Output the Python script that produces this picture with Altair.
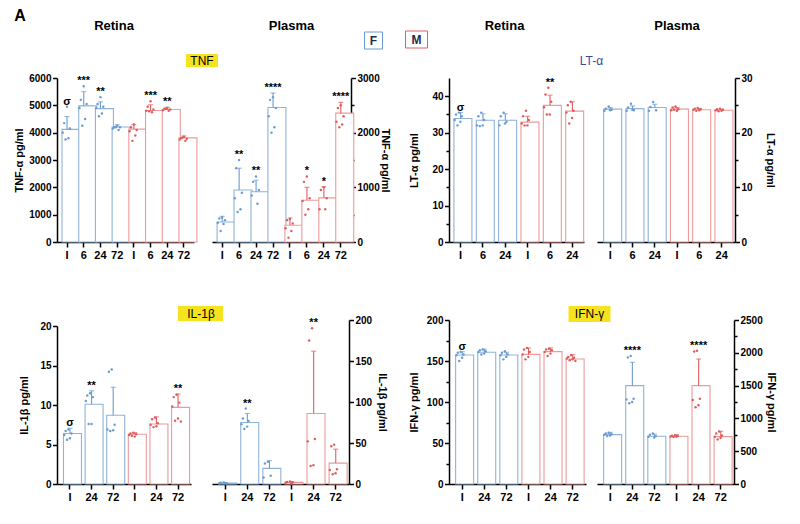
import altair as alt
import pandas as pd

FONT = "Liberation Sans"
BLUE_BAR = "#8fb3d9"
RED_BAR = "#ec9a9a"
BLUE = "#6a9bd1"
RED = "#e05d5d"
YELLOW = "#f6e320"

SEX8 = ["F"] * 4 + ["M"] * 4
SEX6 = ["F"] * 3 + ["M"] * 3
TIMES_TNF = ["I", "6", "24", "72", "I", "6", "24", "72"]
TIMES_LT = ["I", "6", "24", "I", "6", "24"]
TIMES_IL = ["I", "24", "72", "I", "24", "72"]

# ---- TNF ----
TNF_RET_MEAN = [4120, 4980, 4880, 4210, 4130, 4810, 4850, 3810]
TNF_RET_TOP = [4590, 5500, 5130, 4290, 4290, 5020, 4930, 3880]
TNF_RET_PTS = [[4950, 4350, 4150, 4000, 3800, 3750], [5700, 5200, 5050, 4900, 4500, 4250],
               [5300, 5050, 4950, 4900, 4700, 4600], [4250, 4200, 4200, 4150, 4100, 4200],
               [4300, 4200, 4100, 4050, 3900, 3700], [5150, 4950, 4850, 4800, 4750, 4780],
               [4900, 4880, 4850, 4820, 4800, 4870], [3850, 3800, 3780, 3750, 3700, 3820]]
TNF_RET_SIG = ["σ", "***", "**", "", "", "***", "**", ""]

TNF_PLA_MEAN = [365, 950, 920, 2460, 306, 765, 808, 2357]
TNF_PLA_TOP = [470, 1350, 1130, 2725, 440, 1000, 1010, 2553]
TNF_PLA_PTS = [[450, 430, 400, 350, 330, 200], [1500, 1350, 900, 800, 600, 550],
               [1200, 1100, 950, 850, 700], [2650, 2600, 2450, 2300, 2100, 2000],
               [420, 400, 340, 250, 200, 80], [1200, 1100, 800, 750, 600, 500],
               [1000, 950, 800, 600, 600], [2500, 2450, 2300, 2200, 2150, 2100]]
TNF_PLA_SIG = ["", "**", "**", "****", "", "*", "*", "****"]

# ---- LT-alpha ----
LT_RET_MEAN = [33.9, 33.4, 33.4, 32.9, 37.5, 35.9]
LT_RET_TOP = [35.5, 35.2, 35.2, 34.5, 40.3, 38.5]
LT_RET_PTS = [[35.5, 35, 34.5, 33.5, 33, 32], [35.5, 34.5, 33.5, 32, 32, 31.8],
              [35.5, 34.5, 33, 32, 32.5], [36, 34.5, 33.5, 32.5, 32, 32],
              [42.3, 40.5, 38.5, 37, 35, 35], [38.5, 37.5, 36, 35.5, 34, 32.5]]
LT_RET_SIG = ["σ", "", "", "", "**", ""]

LT_PLA_MEAN = [24.3, 24.4, 24.6, 24.3, 24.2, 24.1]
LT_PLA_TOP = [24.6, 24.9, 25.2, 24.6, 24.4, 24.3]
LT_PLA_PTS = [[24.8, 24.4, 24.2, 24.0, 24.1], [25.3, 24.6, 24.1, 24.0, 24.2],
              [25.6, 24.7, 24.1, 24.0], [24.8, 24.6, 24.3, 24.1, 24.0, 24.2],
              [24.5, 24.4, 24.3, 24.2, 24.1, 24.0], [24.4, 24.3, 24.2, 24.1, 24.0, 23.9]]
LT_PLA_SIG = ["", "", "", "", "", ""]

# ---- IL-1beta ----
IL_RET_MEAN = [6.4, 10.1, 8.7, 6.3, 7.6, 9.7]
IL_RET_TOP = [7.05, 11.8, 12.25, 6.5, 8.5, 11.4]
IL_RET_PTS = [[6.9, 6.7, 6.4, 6.2, 5.8, 5.6], [11.5, 11.2, 11.0, 10.5, 7.6, 7.6],
              [14.5, 14.2, 7.5, 6.9, 6.8, 6.7], [6.5, 6.4, 6.3, 6.2, 6.0, 6.1],
              [8.4, 8.2, 7.7, 7.5, 7.3, 7.2], [11.3, 11.0, 10.3, 9.8, 8.3, 8.0, 7.9]]
IL_RET_SIG = ["σ", "**", "", "", "", "**"]

IL_PLA_MEAN = [1.2, 75, 19, 2.0, 86, 25.5]
IL_PLA_TOP = [1.8, 86, 28.5, 3.0, 162, 42.5]
IL_PLA_PTS = [[2, 1.5, 1, 0.8, 1.2], [92, 80, 77, 73, 70, 67], [27, 25, 10, 8],
              [3, 2.5, 2, 1.5, 1], [190, 175, 55, 52, 23, 22], [48, 46, 18, 17, 13, 12]]
IL_PLA_SIG = ["", "**", "", "", "**", ""]

# ---- IFN-gamma ----
IFN_RET_MEAN = [157.3, 160.6, 157.3, 158.1, 161.4, 152.4]
IFN_RET_TOP = [161.4, 164.6, 160.6, 165.9, 166, 157.7]
IFN_RET_PTS = [[161, 160, 158, 157, 154, 150], [164, 163, 162, 161, 159, 158],
               [162, 160, 158, 157, 155, 152], [166, 164, 161, 158, 155, 152],
               [165, 164, 163, 161, 159, 156], [157, 155, 154, 153, 152, 151, 150]]
IFN_RET_SIG = ["σ", "", "", "", "", ""]

IFN_PLA_MEAN = [752, 1499, 727, 727, 1499, 722]
IFN_PLA_TOP = [787, 1855, 762, 752, 1905, 803]
IFN_PLA_PTS = [[780, 770, 760, 750, 740, 730], [1950, 1930, 1300, 1290, 1250, 1230],
               [770, 750, 730, 720, 710], [740, 735, 730, 725, 720, 715],
               [2030, 2020, 1300, 1280, 1200, 1170], [800, 770, 740, 720, 700, 680]]
IFN_PLA_SIG = ["", "****", "", "", "****", ""]

JIT = [3, 1, 5, 0, 4, 2, 6]


def one(text):
    return pd.DataFrame({"t": [text]})


def label(text, x, y, size=13, weight="bold", color="black"):
    return alt.Chart(one(text)).mark_text(
        font=FONT, fontSize=size, fontWeight=weight, color=color,
        align="center", baseline="middle").encode(
        x=alt.value(x), y=alt.value(y), text="t:N")


def box(x1, x2, y1, y2, fill, stroke=None):
    kw = dict(fill=fill)
    if stroke:
        kw.update(stroke=stroke, strokeWidth=1)
    return alt.Chart(one("")).mark_rect(**kw).encode(
        x=alt.value(x1), x2=alt.value(x2), y=alt.value(y1), y2=alt.value(y2))


def panel(sex, times, mean, top, pts, sig, width, height, domain, values, major,
          orient, title, title_x, pad_outer=0.3, yrange=None, ann=()):
    keys = [f"{s}_{t}" for s, t in zip(sex, times)]
    bars = pd.DataFrame({"k": keys, "sex": sex, "mean": mean, "top": top,
                         "sy": [max([tp] + p) for tp, p in zip(top, pts)], "sig": sig})
    rows = []
    for k, s, p in zip(keys, sex, pts):
        for i, v in enumerate(p):
            rows.append({"k": k, "sex": s, "v": v, "j": JIT[i % 7]})
    dots = pd.DataFrame(rows)

    xaxis = alt.Axis(title=None, labelExpr="split(datum.value, '_')[1]", labelAngle=0,
                     labelFont=FONT, labelFontSize=11, labelFontWeight="bold",
                     labelColor="black", domainColor="black", domainWidth=1.5,
                     tickColor="black", tickWidth=1.5, tickSize=5, labelPadding=2,
                     grid=False)
    xs = dict(sort=keys, scale=alt.Scale(domain=keys, paddingInner=0.4, paddingOuter=pad_outer),
              axis=xaxis)
    sc = dict(domain=domain, nice=False, zero=True)
    if yrange:
        sc["range"] = yrange
    yscale = alt.Scale(**sc)
    yaxis = alt.Axis(orient=orient, values=values, title=title,
                     labelExpr=f"datum.value % {major} === 0 ? datum.label : ''",
                     tickSize={"condition": {"test": f"datum.value % {major} !== 0", "value": 3},
                               "value": 4.5},
                     labelFont=FONT, labelFontSize=10, labelFontWeight="bold",
                     labelColor="black", labelPadding=1.5, format="d",
                     titleFont=FONT, titleFontSize=11, titleFontWeight="bold",
                     titleColor="black", titleX=title_x, titleBaseline="middle",
                     titleAngle=-90 if orient == "left" else 90,
                     domainColor="black", domainWidth=1.5, tickColor="black",
                     tickWidth=1.5, grid=False)

    def X():
        return alt.X("k:N", **xs)

    def Y(f):
        return alt.Y(f, scale=yscale, axis=yaxis)

    col = alt.Color("sex:N", scale=alt.Scale(domain=["F", "M"], range=[BLUE, RED]), legend=None)
    stk = alt.Stroke("sex:N", scale=alt.Scale(domain=["F", "M"], range=[BLUE_BAR, RED_BAR]),
                     legend=None)
    base = alt.Chart(bars)
    bar = base.mark_bar(fill="white", strokeWidth=1.1).encode(x=X(), y=Y("mean:Q"), stroke=stk)
    err = base.mark_rule(strokeWidth=1.1).encode(x=X(), y=Y("mean:Q"), y2="top:Q", color=col)
    cap = base.mark_tick(thickness=1.1, size=5).encode(x=X(), y=Y("top:Q"), color=col)
    dot = alt.Chart(dots).mark_circle(size=6, opacity=1).encode(
        x=X(), xOffset=alt.XOffset("j:N", scale=alt.Scale(domain=list(range(7)), paddingOuter=0.5)),
        y=Y("v:Q"), color=col)
    txt = base.mark_text(font=FONT, fontSize=11, fontWeight="bold", color="black",
                         baseline="alphabetic", dy=-2).encode(x=X(), y=Y("sy:Q"), text="sig:N")
    return alt.layer(bar, err, cap, dot, txt, *ann).properties(width=width, height=height)


H = 164

tnf_ret = panel(SEX8, TIMES_TNF, TNF_RET_MEAN, TNF_RET_TOP, TNF_RET_PTS, TNF_RET_SIG,
                137, H, [0, 6000], list(range(0, 6001, 1000)), 1000, "left", "TNF-α pg/ml", -38,
                ann=[label("A", -37, -62, size=16),
                     label("Retina", 57, -52),
                     box(129, 161, -24, -11, YELLOW),
                     label("TNF", 145, -17.5, size=12, weight="normal")])
tnf_pla = panel(SEX8, TIMES_TNF, TNF_PLA_MEAN, TNF_PLA_TOP, TNF_PLA_PTS, TNF_PLA_SIG,
                139, H, [0, 3000], list(range(0, 3001, 500)), 1000, "right", "TNF-α pg/ml", 33.5,
                ann=[label("Plasma", 79.5, -52),
                     box(152.5, 170.5, -46, -29, "white", BLUE),
                     label("F", 161.5, -37.5, size=12, color="#1f2d4d")])
lt_ret = panel(SEX6, TIMES_LT, LT_RET_MEAN, LT_RET_TOP, LT_RET_PTS, LT_RET_SIG,
               135, H, [0, 45], list(range(0, 41, 5)), 10, "left", "LT-α pg/ml", -34.5,
               pad_outer=0.22,
               ann=[box(-43.5, -21.5, -47, -30, "white", RED),
                    label("M", -32.5, -38.5, size=12, color="#1f2d4d"),
                    label("Retina", 55.5, -52),
                    label("LT-α", 142.5, -17, size=12, weight="normal", color="#3a4a9a")])
lt_pla = panel(SEX6, TIMES_LT, LT_PLA_MEAN, LT_PLA_TOP, LT_PLA_PTS, LT_PLA_SIG,
               138, H, [0, 30], list(range(0, 31, 5)), 10, "right", "LT-α pg/ml", 34,
               ann=[label("Plasma", 80, -52)])

il_ret = panel(SEX6, TIMES_IL, IL_RET_MEAN, IL_RET_TOP, IL_RET_PTS, IL_RET_SIG,
               134, H, [0, 20], list(range(0, 21, 5)), 5, "left", "IL-1β  pg/ml", -33,
               yrange=[H, 6],
               ann=[box(121, 166, -14, 1, YELLOW),
                    label("IL-1β", 144, -6.5, size=12, weight="normal")])
il_pla = panel(SEX6, TIMES_IL, IL_PLA_MEAN, IL_PLA_TOP, IL_PLA_PTS, IL_PLA_SIG,
               137, H, [0, 200], list(range(0, 201, 50)), 50, "right", "IL-1β pg/ml", 32.5)
ifn_ret = panel(SEX6, TIMES_IL, IFN_RET_MEAN, IFN_RET_TOP, IFN_RET_PTS, IFN_RET_SIG,
                137, H, [0, 200], list(range(0, 201, 25)), 50, "left", "IFN-γ pg/ml", -34.5,
                ann=[box(119.5, 161.5, -14, 2, YELLOW),
                     label("IFN-γ", 140.5, -6, size=12, weight="normal")])
ifn_pla = panel(SEX6, TIMES_IL, IFN_PLA_MEAN, IFN_PLA_TOP, IFN_PLA_PTS, IFN_PLA_SIG,
                137, H, [0, 2500], list(range(0, 2501, 250)), 500, "right", "IFN-γ pg/ml", 36)


def spacer(w):
    return alt.Chart(pd.DataFrame({"a": [0]})).mark_point(opacity=0).encode(
        x=alt.X("a:Q", axis=None), y=alt.Y("a:Q", axis=None)).properties(width=w, height=1)


GAPS = [17.5, 98, 10.5]
cells = [tnf_ret, spacer(GAPS[0]), tnf_pla, spacer(GAPS[1]), lt_ret, spacer(GAPS[2]), lt_pla,
         il_ret, spacer(GAPS[0]), il_pla, spacer(GAPS[1]), ifn_ret, spacer(GAPS[2]), ifn_pla]

chart = alt.concat(*cells, columns=7, spacing={"row": 78, "column": 0},
                   bounds="flush").properties(
    padding={"left": 5, "top": 0, "right": 5, "bottom": 5}, background="white"
).configure_view(stroke=None, strokeWidth=0).configure_scale(
    bandPaddingInner=0.4, bandWithNestedOffsetPaddingInner=0.4,
    bandWithNestedOffsetPaddingOuter=0.3, offsetBandPaddingOuter=0.5)

chart.save("out.html", embed_options={"renderer": "svg", "actions": False})
